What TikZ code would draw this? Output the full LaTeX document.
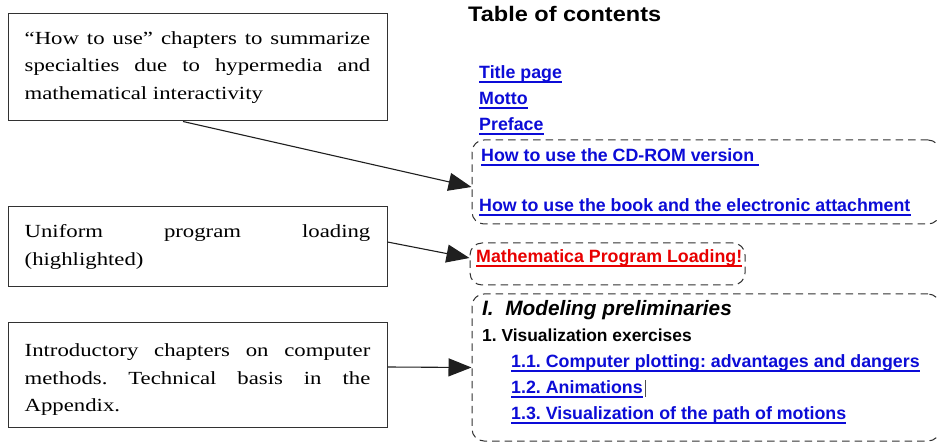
\documentclass[tikz,border=0pt]{standalone}
\usepackage{graphicx}
\usepackage{fontspec}
\setmainfont{Liberation Serif}
\newfontfamily\lsans{Liberation Sans}
\usetikzlibrary{arrows.meta}
\frenchspacing
\definecolor{linkblue}{RGB}{12,12,215}
\definecolor{linkred}{RGB}{232,0,0}
\definecolor{framegray}{RGB}{50,50,50}
\newcommand{\notetext}[1]{\scalebox{1.23}[1]{\parbox{281pt}{\fontsize{18.5}{27.5}\selectfont\frenchspacing\hyphenpenalty=10000\exhyphenpenalty=10000\tolerance=10000 #1}}}
\tikzset{
  note/.style={draw=framegray, line width=1pt, inner xsep=16.5pt, inner ysep=0pt, minimum width=379pt, anchor=center},
  group/.style={draw=framegray, line width=1pt, dash pattern=on 7.5pt off 5pt, rounded corners=12pt, inner sep=0pt},
  link/.style={anchor=base west, inner sep=0pt, font=\lsans\bfseries\fontsize{17.8}{20}\selectfont, text=linkblue},
  redlink/.style={link, text=linkred},
  plain/.style={anchor=base west, inner sep=0pt, text=black},
  ublue/.style={linkblue, line width=1.6pt},
  ured/.style={linkred, line width=1.6pt},
  arr/.style={line width=1.1pt, draw=black!88, -{Triangle[length=23pt,width=18pt]}}
}
\begin{document}
\begin{tikzpicture}[x=1pt,y=-1pt]
\useasboundingbox (0,0) rectangle (937,443);
\clip (0,0) rectangle (937,443);
\fill[white] (0,0) rectangle (937,443);

% left note boxes
\node[note, minimum height=107pt] (b1) at (197.5,67.5)
  {\notetext{``How to use'' chapters to summarize\linebreak specialties due to hypermedia and\linebreak mathematical interactivity}};
\node[note, minimum height=80pt] (b2) at (197.5,247)
  {\notetext{Uniform program loading\linebreak (highlighted)}};
\node[note, minimum height=104pt] (b3) at (197.5,375)
  {\notetext{Introductory chapters on computer\linebreak methods. Technical basis in the\linebreak Appendix.\par\vspace*{-10pt}}};

% dashed groups
\node[group, minimum width=468pt, minimum height=84pt] (gA) at (706,182) {};
\node[group, minimum width=275pt, minimum height=42pt] (gB) at (607.5,264) {};
\node[group, minimum width=468pt, minimum height=147pt] (gC) at (706,367.5) {};

% table of contents
\node[plain] (title) at (468,22) {\scalebox{1.12}[1]{\lsans\bfseries\fontsize{21}{24}\selectfont Table of contents}};
\node[link] (t1) at (479,79) {Title page};
\node[link] (t2) at (479,105) {Motto};
\node[link] (t3) at (479,131) {Preface};
\node[link] (t4) at (481,162) {How to use the CD-ROM version\kern5pt};
\node[link] (t5) at (479,212) {How to use the book and the electronic attachment};
\node[redlink] (t6) at (476,263) {Mathematica Program Loading!};
\node[plain, font=\lsans\bfseries\itshape\fontsize{20.8}{24}\selectfont] (ch) at (482,316) {I.\ \ Modeling preliminaries};
\node[plain, font=\lsans\bfseries\fontsize{17.4}{20}\selectfont] (sec) at (482,342) {1. Visualization exercises};
\node[link] (t11) at (511,368) {1.1. Computer plotting: advantages and dangers};
\node[link] (t12) at (511,394) {1.2. Animations};
\node[link] (t13) at (511,420) {1.3. Visualization of the path of motions};

% underlines
\foreach \n in {t1,t2,t3,t4,t5,t11,t12,t13}
  \draw[ublue] ([yshift=-3pt]\n.base west) -- ([yshift=-3pt]\n.base east);
\draw[ured] ([yshift=-3pt]t6.base west) -- ([yshift=-3pt]t6.base east);
% text cursor after "Animations"
\draw[line width=0.8pt, black!70] ([xshift=2pt,yshift=-3pt]t12.base east) -- ([xshift=2pt,yshift=14pt]t12.base east);

% connectors
\draw[arr] ([xshift=-14.5pt]b1.south) -- ([yshift=-5pt]gA.west);
\draw[arr] ([yshift=5pt]b2.east) -- ([yshift=6pt]gB.west);
\draw[arr] ([yshift=8pt]b3.east) -- (gC.west);
\end{tikzpicture}
\end{document}
